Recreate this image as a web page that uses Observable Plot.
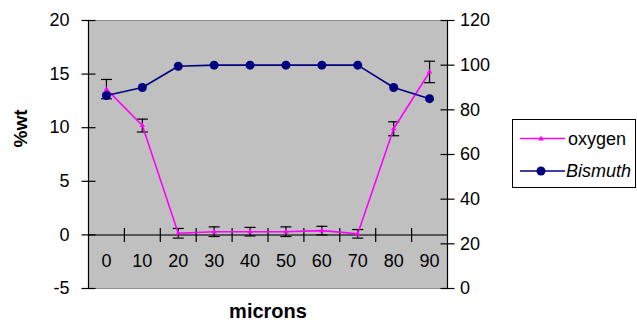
<!DOCTYPE html>
<html><head><meta charset="utf-8">
<script src="https://cdn.jsdelivr.net/npm/d3@7"></script>
<script src="https://cdn.jsdelivr.net/npm/@observablehq/plot@0.6"></script>
<style>
body{margin:0;background:#fff;font-family:"Liberation Sans",Arial,sans-serif;}
#wrap{position:relative;width:637px;height:329px;overflow:hidden;}
#legend{position:absolute;left:512px;top:119px;}
</style></head>
<body><div id="wrap"><div id="chart"></div>
<svg id="legend" width="125" height="70" font-family="Liberation Sans, Arial, sans-serif" font-size="18">
  <rect x="0.5" y="0.5" width="123" height="68" fill="#fff" stroke="#000"/>
  <line x1="8" x2="53" y1="19.5" y2="19.5" stroke="#ff00ff" stroke-width="1.3"/>
  <path d="M29,16.5L31.8,21.5L26.2,21.5Z" fill="#ff00ff"/>
  <text x="56" y="19.5" dy="0.35em">oxygen</text>
  <line x1="8" x2="53" y1="52" y2="52" stroke="#000080" stroke-width="1.3"/>
  <circle cx="29" cy="52" r="4.5" fill="#000080"/>
  <text x="54" y="52" dy="0.35em" font-style="italic">Bismuth</text>
</svg>
</div>
<script>
const microns = [0, 10, 20, 30, 40, 50, 60, 70, 80, 90];
const oxygen = [13.6, 10.2, 0.15, 0.3, 0.3, 0.3, 0.4, 0.1, 9.9, 15.2];
const oxygenErr = [0.9, 0.6, 0.45, 0.45, 0.4, 0.45, 0.4, 0.4, 0.65, 1.0];
const bismuth = [86.4, 90, 99.5, 100, 100, 100, 100, 100, 90, 85];
const leftTicks = [-5, 0, 5, 10, 15, 20];
const rightTicks = [0, 20, 40, 60, 80, 100, 120];
const xBoundaries = [5, 15, 25, 35, 45, 55, 65, 75, 85];

const leftDomain = [-5, 20];
const rightDomain = [0, 120];
const toLeft = v => leftDomain[0] + (v - rightDomain[0]) * (leftDomain[1] - leftDomain[0]) / (rightDomain[1] - rightDomain[0]);

const ox = microns.map((m, i) => ({m, v: oxygen[i], lo: oxygen[i] - oxygenErr[i], hi: oxygen[i] + oxygenErr[i]}));
const bi = microns.map((m, i) => ({m, v: toLeft(bismuth[i])}));

const vline = {draw(ctx){ctx.moveTo(0,-7);ctx.lineTo(0,7);}};
const hline = {draw(ctx){ctx.moveTo(-7,0);ctx.lineTo(7,0);}};
const cap = {draw(ctx){ctx.moveTo(-5.5,0);ctx.lineTo(5.5,0);}};

const chart = Plot.plot({
  width: 637, height: 329,
  marginLeft: 88, marginRight: 190, marginTop: 20, marginBottom: 41,
  style: {fontFamily: '"Liberation Sans", Arial, sans-serif', fontSize: "18px", color: "#000", background: "transparent"},
  x: {domain: [-5, 95], axis: null},
  y: {domain: leftDomain, axis: null},
  marks: [
    Plot.frame({fill: "#c0c0c0", stroke: "#909090"}),
    Plot.ruleY([0], {stroke: "#333", strokeWidth: 1.5}),
    Plot.ruleX([-5, 95], {stroke: "#000", strokeWidth: 1.2}),
    Plot.dot(xBoundaries, {x: d => d, y: 0, symbol: vline, stroke: "#000", strokeWidth: 1.2}),
    Plot.dot(leftTicks, {x: -5, y: d => d, symbol: hline, stroke: "#000", strokeWidth: 1.2}),
    Plot.dot(rightTicks, {x: 95, y: d => toLeft(d), symbol: hline, stroke: "#000", strokeWidth: 1.2}),
    Plot.text(leftTicks, {y: d => d, text: d => String(d), frameAnchor: "left", dx: -19, textAnchor: "end", fontSize: 18}),
    Plot.text(rightTicks, {y: d => toLeft(d), text: d => String(d), frameAnchor: "right", dx: 12.5, textAnchor: "start", fontSize: 18}),
    Plot.text(microns, {x: d => d, text: d => String(d), frameAnchor: "bottom", dy: -22, fontSize: 18}),
    Plot.text(["microns"], {frameAnchor: "bottom", dy: 29, fontWeight: "bold", fontSize: 20}),
    Plot.text(["%wt"], {frameAnchor: "left", dx: -68, dy: -7, rotate: -90, fontWeight: "bold", fontSize: 19}),
    Plot.ruleX(ox, {x: "m", y1: "lo", y2: "hi", stroke: "#000", strokeWidth: 1.2}),
    Plot.dot(ox, {x: "m", y: "lo", symbol: cap, stroke: "#000", strokeWidth: 1.2}),
    Plot.dot(ox, {x: "m", y: "hi", symbol: cap, stroke: "#000", strokeWidth: 1.2}),
    Plot.line(ox, {x: "m", y: "v", stroke: "#ff00ff", strokeWidth: 1.6}),
    Plot.dot(ox, {x: "m", y: "v", symbol: "triangle", r: 2, fill: "#ff00ff"}),
    Plot.line(bi, {x: "m", y: "v", stroke: "#000080", strokeWidth: 1.6}),
    Plot.dot(bi, {x: "m", y: "v", r: 4.5, fill: "#000080"})
  ]
});
document.getElementById("chart").appendChild(chart);
</script></body></html>
